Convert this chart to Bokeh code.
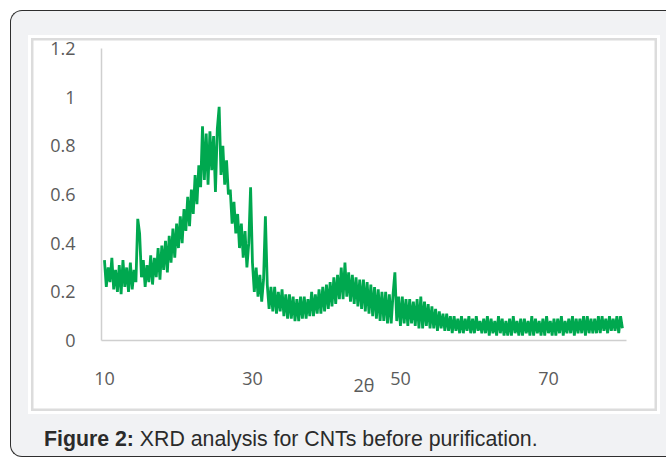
from bokeh.plotting import figure
from bokeh.models import FixedTicker, NumeralTickFormatter, Range1d, Column, Div
from bokeh.embed import file_html
from bokeh.resources import INLINE

# ---- data ----
two_theta_start = 10.0
two_theta_step = 0.25
intensity = [
    0.33, 0.22, 0.30, 0.24,  # 10
    0.34, 0.21, 0.29, 0.20,  # 11
    0.31, 0.19, 0.33, 0.22,  # 12
    0.30, 0.20, 0.32, 0.21,  # 13
    0.29, 0.24, 0.50, 0.44,  # 14
    0.26, 0.33, 0.22, 0.31,  # 15
    0.24, 0.35, 0.23, 0.34,  # 16
    0.26, 0.38, 0.25, 0.39,  # 17
    0.29, 0.41, 0.28, 0.43,  # 18
    0.32, 0.46, 0.34, 0.48,  # 19
    0.38, 0.51, 0.40, 0.54,  # 20
    0.45, 0.59, 0.47, 0.62,  # 21
    0.52, 0.68, 0.56, 0.72,  # 22
    0.63, 0.88, 0.66, 0.85,  # 23
    0.64, 0.86, 0.70, 0.84,  # 24
    0.61, 0.87, 0.96, 0.68,  # 25
    0.80, 0.64, 0.74, 0.60,  # 26
    0.62, 0.48, 0.57, 0.44,  # 27
    0.52, 0.38, 0.48, 0.34,  # 28
    0.45, 0.30, 0.40, 0.63,  # 29
    0.32, 0.20, 0.30, 0.18,  # 30
    0.27, 0.16, 0.25, 0.51,  # 31
    0.23, 0.13, 0.22, 0.12,  # 32
    0.22, 0.11, 0.20, 0.12,  # 33
    0.21, 0.10, 0.19, 0.09,  # 34
    0.19, 0.09, 0.18, 0.08,  # 35
    0.17, 0.08, 0.18, 0.09,  # 36
    0.18, 0.09, 0.17, 0.10,  # 37
    0.20, 0.10, 0.19, 0.11,  # 38
    0.21, 0.11, 0.22, 0.12,  # 39
    0.23, 0.13, 0.24, 0.14,  # 40
    0.26, 0.15, 0.27, 0.17,  # 41
    0.30, 0.17, 0.32, 0.18,  # 42
    0.28, 0.16, 0.27, 0.15,  # 43
    0.26, 0.14, 0.25, 0.13,  # 44
    0.25, 0.12, 0.24, 0.11,  # 45
    0.23, 0.10, 0.22, 0.09,  # 46
    0.21, 0.08, 0.20, 0.08,  # 47
    0.20, 0.07, 0.19, 0.07,  # 48
    0.19, 0.28, 0.08, 0.18,  # 49
    0.06, 0.18, 0.07, 0.17,  # 50
    0.06, 0.17, 0.07, 0.16,  # 51
    0.06, 0.17, 0.05, 0.18,  # 52
    0.05, 0.16, 0.06, 0.15,  # 53
    0.05, 0.14, 0.05, 0.13,  # 54
    0.04, 0.12, 0.05, 0.11,  # 55
    0.04, 0.11, 0.04, 0.10,  # 56
    0.03, 0.10, 0.04, 0.09,  # 57
    0.03, 0.10, 0.03, 0.09,  # 58
    0.04, 0.10, 0.03, 0.09,  # 59
    0.03, 0.10, 0.04, 0.08,  # 60
    0.03, 0.09, 0.03, 0.10,  # 61
    0.02, 0.09, 0.03, 0.08,  # 62
    0.02, 0.10, 0.03, 0.09,  # 63
    0.02, 0.08, 0.02, 0.09,  # 64
    0.02, 0.10, 0.03, 0.08,  # 65
    0.02, 0.09, 0.02, 0.09,  # 66
    0.03, 0.08, 0.02, 0.10,  # 67
    0.02, 0.09, 0.03, 0.08,  # 68
    0.02, 0.09, 0.02, 0.10,  # 69
    0.03, 0.08, 0.02, 0.09,  # 70
    0.02, 0.09, 0.03, 0.10,  # 71
    0.02, 0.08, 0.03, 0.09,  # 72
    0.03, 0.10, 0.02, 0.09,  # 73
    0.03, 0.09, 0.03, 0.10,  # 74
    0.02, 0.10, 0.03, 0.09,  # 75
    0.03, 0.09, 0.03, 0.10,  # 76
    0.03, 0.10, 0.04, 0.09,  # 77
    0.03, 0.10, 0.04, 0.09,  # 78
    0.04, 0.10, 0.03, 0.10,  # 79
    0.05,                    # 80
]
two_theta = [two_theta_start + i * two_theta_step for i in range(len(intensity))]

x_ticks = [10, 30, 50, 70]
y_ticks = [0, 0.2, 0.4, 0.6, 0.8, 1, 1.2]
axis_title = "2θ"
caption_bold = "Figure 2:"
caption_text = "XRD analysis for CNTs before purification."

# ---- chart (the white image panel) ----
p = figure(width=632, height=379, output_backend="svg", toolbar_location=None,
           x_range=Range1d(9.6, 80.55), y_range=Range1d(0, 1.2),
           min_border_left=73, min_border_right=34,
           min_border_top=13, min_border_bottom=74,
           margin=(24, 0, 0, 17),
           styles={"background-color": "white",
                   "box-shadow": "inset 0 0 0 3px #ffffff, inset 0 0 0 5.5px #dcdcdc"})
p.border_fill_color = None
p.background_fill_color = "white"
p.outline_line_color = None
p.xgrid.visible = False
p.ygrid.visible = False

p.line(two_theta, intensity, line_color="#00a84f", line_width=2.8)

tick_font = "Open Sans"
tick_color = "#5b5b5b"
for ax, ticks, standoff in ((p.xaxis[0], x_ticks, 25), (p.yaxis[0], y_ticks, 20)):
    ax.ticker = FixedTicker(ticks=ticks)
    ax.major_tick_line_color = None
    ax.minor_tick_line_color = None
    ax.axis_line_color = "#cfcfcf"
    ax.axis_line_width = 1.5
    ax.major_label_text_font = tick_font
    ax.major_label_text_font_size = "18px"
    ax.major_label_text_color = tick_color
    ax.major_label_standoff = standoff
p.yaxis[0].formatter = NumeralTickFormatter(format="0.[0]")
p.xaxis[0].axis_label = axis_title
p.xaxis[0].axis_label_standoff = -15
p.xaxis[0].axis_label_text_font = tick_font
p.xaxis[0].axis_label_text_font_size = "18px"
p.xaxis[0].axis_label_text_font_style = "normal"
p.xaxis[0].axis_label_text_color = tick_color

caption = Div(text=f"<b>{caption_bold}</b> {caption_text}", width=600, height=26,
              margin=(13, 0, 0, 33),
              styles={"font-family": "'Liberation Sans', Arial, sans-serif",
                      "font-size": "21.3px", "color": "#2b2b2b",
                      "line-height": "24px", "white-space": "nowrap"})

root = Column(children=[p, caption], width=656, height=447, margin=(10, 0, 0, 10),
              styles={"background-color": "#f1f2f4",
                      "border": "1px solid #2e2e2e", "border-right": "none",
                      "border-radius": "12px 0 0 12px", "box-sizing": "border-box",
                      "overflow": "hidden"})

open("out.html", "w").write(file_html(root, INLINE))
